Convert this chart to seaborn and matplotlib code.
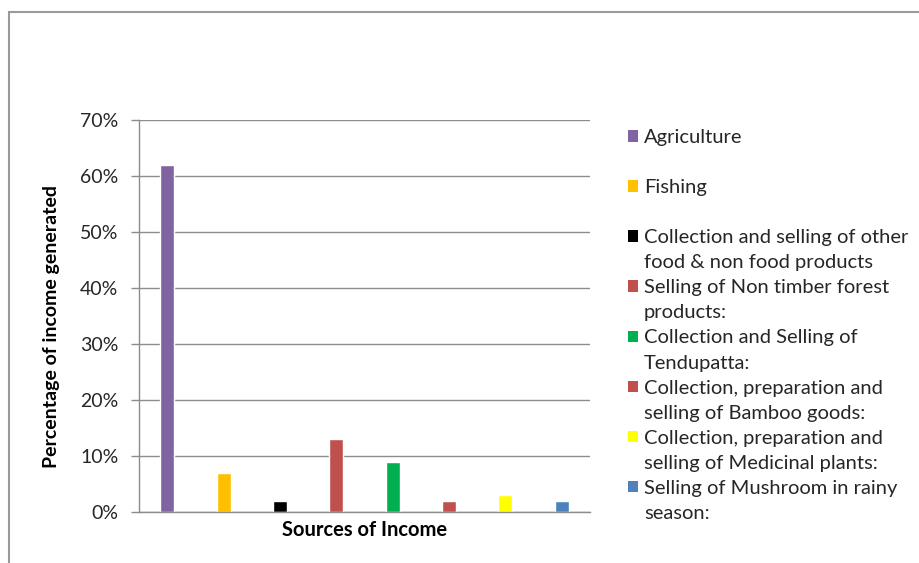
import matplotlib
matplotlib.use("Agg")
import matplotlib.pyplot as plt
from matplotlib.patches import Patch, Rectangle
from matplotlib.ticker import PercentFormatter
import seaborn as sns
import pandas as pd

# ---- data ----
sources = [
    "Agriculture",
    "Fishing",
    "Collection and selling of other food & non food products",
    "Selling of Non timber forest products:",
    "Collection and Selling of Tendupatta:",
    "Collection, preparation and selling of Bamboo goods:",
    "Collection, preparation and selling of Medicinal plants:",
    "Selling of Mushroom in rainy season:",
]
legend_lines = [
    ["Agriculture", ""],
    ["Fishing", ""],
    ["Collection and selling of other", "food & non food products"],
    ["Selling of Non timber forest", "products:"],
    ["Collection and Selling of", "Tendupatta:"],
    ["Collection, preparation and", "selling of Bamboo goods:"],
    ["Collection, preparation and", "selling of Medicinal plants:"],
    ["Selling of Mushroom in rainy", "season:"],
]
share = [62, 7, 2, 13, 9, 2, 3, 2]
colors = ["#8064A2", "#FFC000", "#000000", "#C0504D", "#00B050", "#C0504D", "#FFFF00", "#4F81BD"]
yticks = [0, 10, 20, 30, 40, 50, 60, 70]

df = pd.DataFrame({"source": sources, "share": share})

sns.set_style("white")
plt.rcParams["font.family"] = ["Lato", "DejaVu Sans"]

W, H = 919, 563
fig = plt.figure(figsize=(W / 100, H / 100), dpi=100)
ax = fig.add_axes([139 / W, 1 - 512 / H, (590 - 139) / W, (512 - 120) / H])

sns.barplot(data=df, x="source", y="share", hue="source", palette=colors,
            width=0.25, legend=False, ax=ax, saturation=1)

ax.set_ylim(0, 70)
ax.set_yticks(yticks)
ax.yaxis.set_major_formatter(PercentFormatter(decimals=0))
ax.set_xlim(-0.5, len(sources) - 0.5)
ax.set_xticks([])
ax.grid(axis="y", color="#8C8C8C", linewidth=1.0)
ax.set_axisbelow(True)
for s in ["top", "right"]:
    ax.spines[s].set_visible(False)
for s in ["left", "bottom"]:
    ax.spines[s].set_color("#8C8C8C")
    ax.spines[s].set_linewidth(1.0)
ax.tick_params(axis="y", length=5.8, width=1.0, color="#8C8C8C", pad=9.0,
               labelsize=14, labelcolor="#262626", left=True)
ax.set_ylabel("Percentage of income generated", fontsize=14, fontweight="bold",
              color="#000000")
ax.yaxis.set_label_coords(60 / W, 1 - 327 / H, transform=fig.transFigure)
ax.set_xlabel("Sources of Income", fontsize=14.5, fontweight="bold",
              color="#000000")
ax.xaxis.set_label_coords(364.5 / W, 1 - 520 / H, transform=fig.transFigure)

# legend: one row per text line, swatch only on the first line of each entry
handles, labels = [], []
for col, lines in zip(colors, legend_lines):
    handles.append(Patch(facecolor=col, edgecolor="none"))
    labels.append(lines[0])
    handles.append(Patch(facecolor="none", edgecolor="none"))
    labels.append(lines[1] if lines[1] else " ")
leg = ax.legend(handles, labels, loc="upper left", bbox_to_anchor=(628 / W, 1 - 129 / H),
                bbox_transform=fig.transFigure, frameon=False, fontsize=14.5,
                handlelength=0.5, handleheight=0.5, handletextpad=0.3,
                labelspacing=0.40, borderaxespad=0, borderpad=0)

# outer chart-area border
fig.patches.append(Rectangle((9 / W, -0.05), 1.0, 1 - 12 / H + 0.05,
                             transform=fig.transFigure, fill=False,
                             edgecolor="#9A9A9A", linewidth=1.5))

fig.savefig("out.png", dpi=100)
